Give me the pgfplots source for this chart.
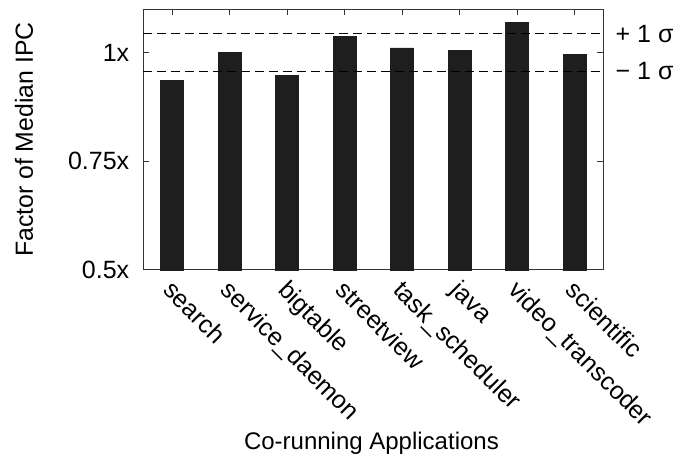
\documentclass[border=0pt]{standalone}
\usepackage{pgfplots}
\pgfplotsset{compat=1.18}
\usepackage{fontspec}
\setmainfont{Liberation Sans}
\definecolor{barc}{HTML}{1E1E1E}
\begin{document}
\begin{tikzpicture}
\path[use as bounding box] (-71.65pt,-92.5pt) rectangle (269.35pt,135pt);
\begin{axis}[
  scale only axis, width=230pt, height=130.35pt,
  xmin=-0.5, xmax=7.5, ymin=0.5, ymax=1.1,
  xtick={0,...,7},
  xticklabels={search,service\_daemon,bigtable,streetview,task\_scheduler,java,video\_transcoder,scientific},
  ytick={0.5,0.75,1}, yticklabels={0.5x,0.75x,1x},
  /pgf/number format/assume math mode=true,
  tick align=inside, major tick length=3pt,
  xtick pos=both, ytick pos=both,
  xticklabel pos=lower, yticklabel pos=left,
  axis line style={line width=0.5pt, black!80},
  every tick/.style={line width=0.5pt, black!80},
  tick label style={font=\fontsize{12.5}{14}\selectfont},
  yticklabel style={xshift=-3.5pt},
  xticklabel style={rotate=-45, anchor=north west, inner sep=1pt, xshift=3pt, yshift=-1pt},
  ylabel={Factor of Median IPC},
  ylabel style={font=\fontsize{12.4}{14}\selectfont, at={(axis description cs:-0.2593,0.5)}, anchor=center, rotate=0},
  xlabel={Co-running Applications},
  xlabel style={font=\fontsize{12}{14}\selectfont, at={(axis description cs:0.496,-0.69)}, anchor=base},
  clip=false,
]
\addplot[ybar, bar width=11.3pt, fill=barc, draw=barc, line width=0.3pt] coordinates {
  (0,0.937) (1,1.001) (2,0.948) (3,1.037) (4,1.011) (5,1.006) (6,1.070) (7,0.996)
};
\addplot[black, line width=0.6pt, dash pattern=on 4.5pt off 2.5pt] coordinates {(-0.5,1.044) (7.5,1.044)};
\addplot[black, line width=0.6pt, dash pattern=on 4.5pt off 2.5pt] coordinates {(-0.5,0.957) (7.5,0.957)};
\node[anchor=west, inner sep=0pt, xshift=6pt, font=\fontsize{12.5}{14}\selectfont] at (axis cs:7.5,1.044) {+ 1 σ};
\node[anchor=west, inner sep=0pt, xshift=6pt, font=\fontsize{12.5}{14}\selectfont] at (axis cs:7.5,0.957) {− 1 σ};
\end{axis}
\end{tikzpicture}
\end{document}
